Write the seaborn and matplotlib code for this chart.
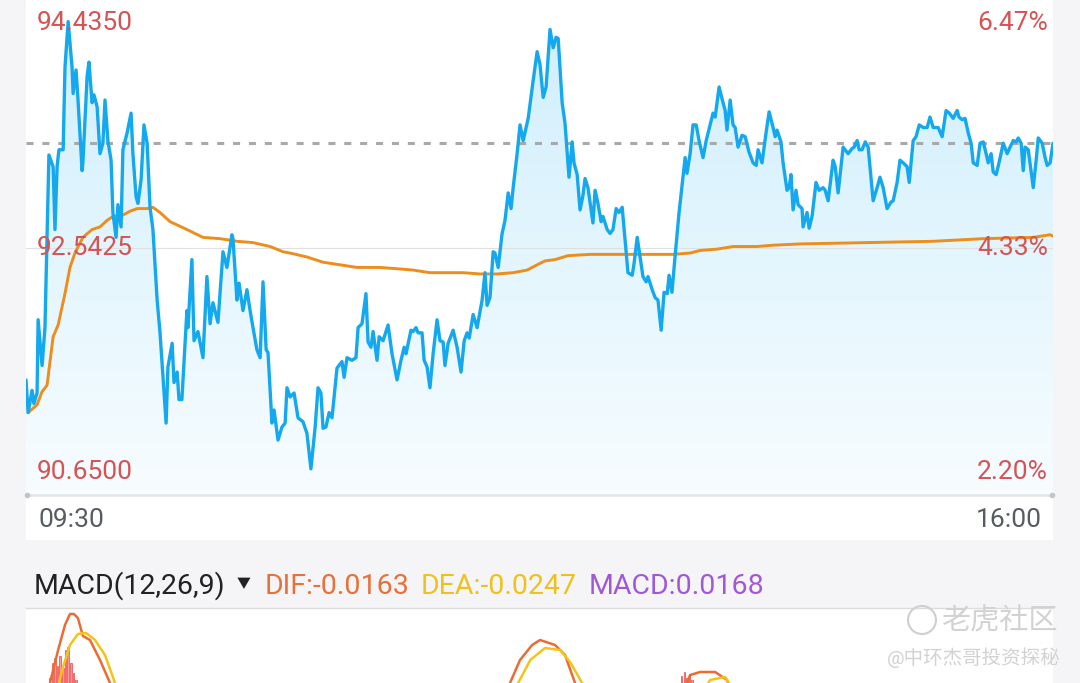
import numpy as np
import pandas as pd
import matplotlib
matplotlib.use("Agg")
import matplotlib.pyplot as plt
from matplotlib.patches import Rectangle, Ellipse
import seaborn as sns

# intraday price, minutes after 09:30
minutes = [
    0, 0.8, 2.3, 3.0, 4.2, 4.6, 6.1, 7.2, 8.0, 8.7,
    10.3, 11.0, 11.8, 12.5, 14.1, 14.8, 16.0, 17.5, 17.9, 19.0,
    19.7, 21.3, 21.6, 23.2, 23.9, 25.1, 25.8, 27.0, 28.1, 29.2,
    30.0, 31.1, 32.3, 33.0, 34.2, 34.9, 36.1, 36.8, 38.4, 39.9,
    40.6, 41.8, 42.5, 43.7, 44.8, 46.0, 47.1, 48.2, 49.8, 50.9,
    53.2, 53.9, 55.5, 56.2, 57.4, 58.1, 59.2, 61.1, 61.5, 63.0,
    63.8, 65.3, 67.2, 68.7, 69.9, 71.0, 72.9, 74.8, 76.3, 78.2,
    78.6, 80.1, 80.9, 82.4, 83.9, 85.1, 86.2, 87.7, 88.9, 90.0,
    91.2, 91.9, 93.4, 94.2, 95.7, 97.2, 98.4, 99.1, 100.3, 101.8,
    103.3, 105.2, 106.7, 108.2, 109.8, 110.9, 112.0, 112.8, 113.9, 115.1,
    116.2, 118.1, 120.0, 120.8, 121.9, 123.8, 125.3, 126.1, 127.6, 129.1,
    129.9, 131.0, 131.8, 133.3, 134.1, 135.6, 137.5, 139.0, 140.9, 142.4,
    143.6, 144.3, 146.2, 147.0, 148.1, 148.9, 150.4, 151.2, 152.3, 153.4,
    154.6, 156.1, 157.2, 158.4, 159.1, 160.3, 162.2, 163.7, 165.2, 166.4,
    167.5, 168.3, 169.8, 171.3, 173.2, 174.3, 175.1, 176.2, 177.4, 178.1,
    179.3, 180.8, 181.9, 183.1, 184.2, 185.0, 186.5, 187.6, 188.8, 190.7,
    192.6, 194.1, 195.2, 196.4, 197.5, 199.0, 200.2, 201.3, 202.1, 203.6,
    204.7, 206.2, 207.4, 208.1, 209.3, 210.4, 211.5, 212.3, 213.4, 215.3,
    216.1, 217.2, 218.4, 219.1, 220.7, 221.8, 222.9, 224.1, 225.2, 226.4,
    227.5, 228.6, 230.2, 230.9, 232.1, 233.2, 234.3, 235.5, 236.2, 237.8,
    238.9, 240.0, 241.2, 242.3, 243.5, 244.2, 245.3, 246.5, 248.0, 249.5,
    250.3, 251.0, 252.2, 253.3, 254.5, 255.6, 257.1, 258.3, 259.8, 260.9,
    261.7, 262.4, 263.2, 264.7, 265.5, 266.2, 267.4, 268.5, 269.3, 270.4,
    271.9, 273.1, 274.6, 276.1, 277.3, 278.0, 279.5, 281.1, 282.2, 283.7,
    284.5, 285.2, 286.7, 287.5, 289.0, 289.8, 290.5, 291.3, 292.4, 293.2,
    294.7, 295.1, 296.6, 297.4, 298.5, 300.0, 301.2, 302.7, 303.5, 304.6,
    306.5, 307.3, 308.4, 310.3, 312.2, 313.7, 314.5, 315.6, 316.4, 317.5,
    318.7, 319.8, 321.7, 323.2, 324.3, 325.5, 327.0, 328.5, 329.3, 330.8,
    331.9, 333.1, 334.6, 335.4, 336.9, 338.0, 339.2, 340.7, 342.2, 343.3,
    344.5, 345.2, 346.4, 347.9, 349.4, 350.6, 352.1, 353.6, 354.3, 355.5,
    356.6, 357.8, 358.9, 359.7, 361.2, 362.3, 363.5, 364.6, 365.4, 366.5,
    367.3, 368.4, 369.5, 371.1, 372.6, 373.7, 374.9, 376.0, 376.8, 377.9,
    378.7, 379.4, 380.6, 382.5, 383.6, 384.4, 385.9, 387.0, 387.8, 388.9, 390.0,
]
price = [
    91.53, 91.28, 91.45, 91.35, 91.43, 91.99, 91.64, 91.93, 92.65, 93.25,
    93.16, 92.68, 93.16, 93.29, 93.29, 93.92, 94.27, 93.92, 93.72, 93.90,
    93.69, 93.13, 93.19, 93.85, 93.96, 93.65, 93.71, 93.62, 93.26, 93.34,
    93.67, 93.36, 93.21, 92.81, 92.62, 92.87, 92.70, 93.29, 93.42, 93.57,
    93.26, 92.93, 92.88, 93.06, 93.48, 93.34, 92.85, 92.68, 92.14, 91.89,
    91.20, 91.63, 91.81, 91.51, 91.59, 91.38, 91.38, 92.06, 91.93, 92.45,
    91.83, 91.90, 91.70, 92.32, 91.96, 92.12, 91.97, 92.51, 92.39, 92.64,
    92.61, 92.14, 92.27, 92.06, 92.22, 92.06, 91.93, 91.76, 91.70, 92.28,
    91.76, 91.74, 91.20, 91.30, 91.07, 91.17, 91.20, 91.47, 91.40, 91.43,
    91.24, 91.21, 91.12, 90.85, 91.17, 91.47, 91.43, 91.16, 91.17, 91.28,
    91.24, 91.62, 91.67, 91.55, 91.70, 91.68, 91.70, 91.93, 91.96, 92.19,
    91.82, 91.78, 91.90, 91.68, 91.86, 91.83, 91.95, 91.73, 91.53, 91.68,
    91.78, 91.73, 91.91, 91.90, 91.93, 91.89, 91.89, 91.68, 91.63, 91.47,
    91.73, 91.99, 91.83, 91.82, 91.64, 91.81, 91.91, 91.78, 91.59, 91.83,
    91.89, 91.85, 92.03, 91.93, 92.14, 92.35, 92.10, 92.16, 92.51, 92.50,
    92.39, 92.65, 92.75, 92.96, 92.84, 93.00, 93.26, 93.48, 93.36, 93.53,
    93.82, 94.04, 93.94, 93.69, 93.77, 94.21, 94.07, 94.15, 94.14, 93.65,
    93.49, 93.08, 93.35, 93.19, 93.10, 92.83, 92.94, 93.07, 93.00, 92.73,
    92.98, 92.88, 92.74, 92.78, 92.68, 92.65, 92.68, 92.84, 92.81, 92.85,
    92.60, 92.35, 92.33, 92.42, 92.62, 92.47, 92.32, 92.28, 92.32, 92.22,
    92.16, 92.14, 91.91, 92.20, 92.19, 92.33, 92.20, 92.48, 92.81, 93.08,
    93.23, 93.11, 93.26, 93.48, 93.48, 93.36, 93.23, 93.36, 93.48, 93.57,
    93.54, 93.65, 93.77, 93.65, 93.59, 93.44, 93.67, 93.48, 93.46, 93.31,
    93.40, 93.39, 93.27, 93.19, 93.17, 93.29, 93.19, 93.43, 93.58, 93.46,
    93.39, 93.44, 93.35, 93.19, 92.98, 93.00, 93.10, 92.83, 92.98, 92.87,
    92.84, 92.70, 92.81, 92.69, 92.78, 93.04, 92.98, 93.00, 92.98, 92.90,
    93.21, 93.16, 92.96, 93.31, 93.26, 93.30, 93.31, 93.36, 93.29, 93.29,
    93.35, 93.31, 92.90, 93.00, 93.08, 93.00, 92.84, 92.89, 92.90, 93.04,
    93.21, 93.19, 93.16, 93.04, 93.36, 93.39, 93.48, 93.46, 93.46, 93.54,
    93.46, 93.46, 93.46, 93.39, 93.59, 93.57, 93.53, 93.59, 93.54, 93.52,
    93.53, 93.42, 93.34, 93.19, 93.17, 93.34, 93.35, 93.26, 93.19, 93.26,
    93.12, 93.10, 93.19, 93.34, 93.26, 93.31, 93.36, 93.35, 93.38, 93.34,
    93.13, 93.31, 93.29, 93.00, 93.21, 93.38, 93.34, 93.23, 93.17, 93.19, 93.34,
]

# average price line
avg_minutes = [0.8, 4.2, 6.1, 8.0, 10.3, 12.2, 14.8, 16.7, 18.6, 21.6,
               25.1, 28.1, 30.8, 33.0, 36.8, 39.5, 42.2, 46.0, 48.2, 50.9,
               54.7, 61.1, 67.2, 73.7, 80.1, 86.2, 92.7, 97.6, 100.3, 106.7,
               112.8, 119.3, 125.7, 134.4, 140.9, 147.0, 153.4, 159.9, 166.0, 172.4,
               178.9, 185.0, 190.3, 194.1, 197.1, 200.9, 205.8, 214.2, 226.7, 239.6,
               245.7, 252.2, 256.0, 262.4, 268.5, 277.6, 283.7, 294.0, 319.4, 344.5,
               363.5, 382.5, 388.9, 390.0]
avg_price = [91.28, 91.34, 91.44, 91.49, 91.86, 91.95, 92.19, 92.39, 92.50, 92.62,
             92.68, 92.70, 92.75, 92.78, 92.79, 92.82, 92.84, 92.84, 92.85, 92.81,
             92.74, 92.68, 92.62, 92.61, 92.59, 92.58, 92.55, 92.51, 92.50, 92.47,
             92.43, 92.41, 92.39, 92.39, 92.38, 92.37, 92.35, 92.35, 92.35, 92.34,
             92.34, 92.35, 92.37, 92.41, 92.44, 92.45, 92.48, 92.49, 92.49, 92.49,
             92.49, 92.50, 92.52, 92.53, 92.55, 92.55, 92.56, 92.57, 92.58, 92.59,
             92.61, 92.62, 92.64, 92.63]

ref_price = 93.34
price_low, price_mid, price_high = 90.65, 92.5425, 94.435
price_labels = ["94.4350", "92.5425", "90.6500"]
pct_labels = ["6.47%", "4.33%", "2.20%"]
time_labels = ["09:30", "16:00"]

# MACD panel (only the upper part is visible)
dif_minutes = [0, 7.2, 9.1, 12.2, 14.8, 16.7, 18.2, 19.7, 21.6, 24.3,
               28.1, 31.9, 34.9, 45, 80, 120, 160, 180.0, 183.8, 187.6,
               192.2, 195.2, 200.9, 204.7, 208.5, 211.2, 225, 240, 248.4, 252.2,
               256.0, 261.7, 266.2, 269.3, 290, 330, 370, 390]
dif_values = [-0.02, 0.008, 0.025, 0.058, 0.083, 0.094, 0.094, 0.090, 0.072, 0.068,
              0.048, 0.025, 0.003, -0.04, -0.07, -0.06, -0.03, 0.003, 0.025, 0.048,
              0.063, 0.068, 0.063, 0.053, 0.025, 0.003, -0.02, -0.01, 0.008, 0.033,
              0.036, 0.036, 0.028, 0.008, -0.02, -0.03, -0.025, -0.016]
dea_minutes = [0, 11.0, 13.7, 16.7, 19.7, 22.8, 26.2, 30.0, 33.8, 36.5,
               50, 90, 130, 170, 183.1, 186.9, 191.5, 197.1, 202.8, 206.6,
               211.2, 214.2, 230, 254.1, 259.8, 265.5, 271.2, 300, 340, 390]
dea_values = [-0.01, 0.008, 0.038, 0.063, 0.074, 0.075, 0.068, 0.053, 0.025, 0.003,
              -0.03, -0.06, -0.05, -0.02, 0.003, 0.025, 0.048, 0.060, 0.058, 0.046,
              0.025, 0.003, -0.01, 0.003, 0.028, 0.031, 0.008, -0.02, -0.03, -0.025]
hist_minutes = [9, 10, 11, 12, 13, 14, 15, 16, 17, 18, 19,
                248, 249, 250, 251, 252, 253, 254]
hist_values = [0.030, 0.045, 0.050, 0.042, 0.052, 0.040, 0.058, 0.061, 0.045, 0.035, 0.028,
               0.025, 0.032, 0.036, 0.030, 0.034, 0.028, 0.022]

sns.set_style("white")
plt.rcParams["font.family"] = ["Roboto", "Noto Sans CJK SC", "DejaVu Sans"]

W, H = 1080, 683
red = "#d65353"


def fx(x):
    return x / W


def fy(y):
    return 1 - y / H


fig = plt.figure(figsize=(W / 100, H / 100), dpi=100, facecolor="#f5f5f7")
fig.add_artist(Rectangle((fx(26), fy(540)), 1027 / W, 540 / H, transform=fig.transFigure,
                         facecolor="white", edgecolor="none", zorder=0))

ax = fig.add_axes([fx(26), fy(495), 1027 / W, 495 / H])
ax.set_facecolor("white")
ax.set_xlim(0, 390)
ax.set_ylim(price_low, price_high)
ax.set_axis_off()

df = pd.DataFrame({"minute": minutes, "price": price})
dfa = pd.DataFrame({"minute": avg_minutes, "price": avg_price})

# gradient fill under the price line
poly = ax.fill_between(df["minute"], df["price"], price_low, facecolor="none", edgecolor="none")
top_c = np.array([0.81, 0.935, 0.99])
bot_c = np.array([0.97, 0.99, 1.0])
g = np.linspace(0, 1, 256)[:, None, None]
grad = top_c * (1 - g) + bot_c * g
im = ax.imshow(grad, extent=[0, 390, price_low, price_high], aspect="auto",
               origin="upper", zorder=1)
im.set_clip_path(poly.get_paths()[0], transform=ax.transData)

ax.axhline(price_mid, color="#e0e0e0", lw=0.8, zorder=2)
ax.axhline(ref_price, color="#a9a9a9", lw=2.2, dashes=(2.3, 2.9), zorder=2)

sns.lineplot(data=df, x="minute", y="price", ax=ax, color="#14a9ee", lw=2.4,
             estimator=None, sort=False, zorder=4)
sns.lineplot(data=dfa, x="minute", y="price", ax=ax, color="#ec8d1c", lw=2.1,
             estimator=None, sort=False, zorder=3)
ax.set_xlim(0, 390)
ax.set_ylim(price_low, price_high)

# bottom axis line
fig.add_artist(plt.Line2D([fx(26), fx(1053)], [fy(495), fy(495)], color="#e4e4e4", lw=1.8))
fig.add_artist(plt.Line2D([fx(27), fx(1052)], [fy(495), fy(495)], ls="none", marker="o",
                          ms=3, color="#c4c4c4"))

fs = 19
for lab, y in zip(price_labels, [23, 248, 472]):
    fig.text(fx(37), fy(y), lab, color=red, fontsize=fs, va="center", ha="left")
for lab, y in zip(pct_labels, [23, 248, 472]):
    fig.text(fx(1048), fy(y), lab, color=red, fontsize=fs, va="center", ha="right")
fig.text(fx(38), fy(520), time_labels[0], color="#575c63", fontsize=fs, va="center", ha="left")
fig.text(fx(1042), fy(520), time_labels[1], color="#575c63", fontsize=fs, va="center", ha="right")

# MACD header
hs = 20.5
fig.text(fx(34), fy(586), "MACD(12,26,9)", color="#222222", fontsize=hs, va="center")
fig.text(fx(244), fy(584), "▼", color="#222222", fontsize=10, va="center", ha="center")
fig.text(fx(265), fy(586), "DIF:-0.0163", color="#e8703a", fontsize=hs, va="center")
fig.text(fx(421), fy(586), "DEA:-0.0247", color="#eec21a", fontsize=hs, va="center")
fig.text(fx(589), fy(586), "MACD:0.0168", color="#a158d6", fontsize=hs, va="center")

# MACD panel, extends past the bottom edge
ax2 = fig.add_axes([fx(26), fy(808), 1027 / W, 200 / H])
ax2.set_facecolor("white")
ax2.bar(hist_minutes, hist_values, width=0.6, color="#f59a9a", edgecolor="#ee5b5b", lw=0.6)
sns.lineplot(x=dif_minutes, y=dif_values, ax=ax2, color="#ec6b34", lw=1.8,
             estimator=None, sort=False)
sns.lineplot(x=dea_minutes, y=dea_values, ax=ax2, color="#f2c417", lw=1.8,
             estimator=None, sort=False)
ax2.set_xlim(0, 390)
ax2.set_ylim(-0.10, 0.10)
ax2.set_xticks([])
ax2.set_yticks([])
ax2.set_xlabel("")
ax2.set_ylabel("")
for s in ["left", "right", "bottom"]:
    ax2.spines[s].set_visible(False)
ax2.spines["top"].set_color("#dcdcdc")
ax2.spines["top"].set_linewidth(1.0)

# watermark
fig.add_artist(Ellipse((fx(922), fy(620)), 28 / W, 28 / H, transform=fig.transFigure,
                       fill=False, ec="#cfcfcf", lw=1.5))
fig.text(fx(1058), fy(621), "老虎社区", color="#d2d2d2", fontsize=21, va="center", ha="right")
fig.text(fx(1060), fy(658), "@中环杰哥投资探秘", color="#d2d2d2", fontsize=14, va="center", ha="right")

fig.savefig("out.png", dpi=100, facecolor=fig.get_facecolor())
